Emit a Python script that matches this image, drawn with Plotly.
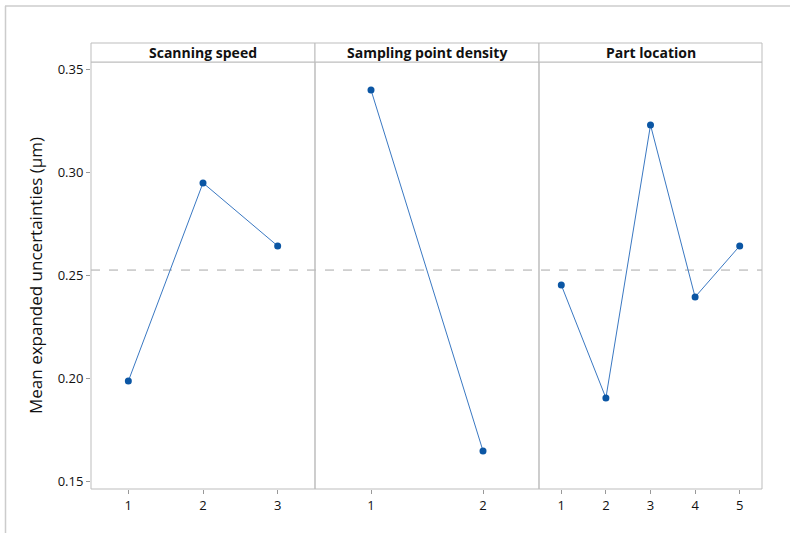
import plotly.graph_objects as go

panel_titles = ["Scanning speed", "Sampling point density", "Part location"]
speed_levels = [1, 2, 3]
speed_means = [0.1985, 0.2947, 0.2641]
density_levels = [1, 2]
density_means = [0.3398, 0.1646]
location_levels = [1, 2, 3, 4, 5]
location_means = [0.2451, 0.1903, 0.3228, 0.2393, 0.2641]
grand_mean = 0.2524
y_ticks = [0.15, 0.20, 0.25, 0.30, 0.35]

W, H = 790, 533
L, R, T, B = 91, 762, 43, 489
pw, ph = R - L, B - T
def px(x): return (x - L) / pw
def py(y): return (B - y) / ph

bounds = [91, 315, 539, 762]
doms = [[px(bounds[i]), px(bounds[i + 1])] for i in range(3)]
y_top = py(62)

series = [(speed_levels, speed_means), (density_levels, density_means), (location_levels, location_means)]
fig = go.Figure()
font = "Open Sans, Noto Sans, sans-serif"
for i, (lv, mv) in enumerate(series):
    xa = "x" if i == 0 else f"x{i+1}"
    fig.add_trace(go.Scatter(x=lv, y=mv, xaxis=xa, yaxis="y", mode="lines+markers",
                             line=dict(color="#3a78c2", width=1),
                             marker=dict(color="#0b56a4", size=7, symbol="circle"),
                             showlegend=False, hoverinfo="x+y"))

layout = dict(width=W, height=H, margin=dict(l=L, r=W - R, t=T, b=H - B, autoexpand=False),
              plot_bgcolor="white", paper_bgcolor="white",
              font=dict(family=font, color="#222222", size=13))
for i, lv in enumerate([speed_levels, density_levels, location_levels]):
    key = "xaxis" if i == 0 else f"xaxis{i+1}"
    layout[key] = dict(domain=doms[i], range=[0.5, max(lv) + 0.5], tickvals=lv,
                       ticks="outside", ticklen=4, tickcolor="#999999", showgrid=False,
                       zeroline=False, showline=False, anchor="y", automargin=False,
                       tickfont=dict(size=13, color="#111111"), fixedrange=True)
layout["yaxis"] = dict(domain=[0, y_top], range=[0.35 - (489 - 69) / 2060, 0.35 + (69 - 62) / 2060],
                       tickvals=y_ticks, tickformat=".2f", ticks="outside", ticklen=4,
                       tickcolor="#999999", showgrid=False, zeroline=False, showline=False,
                       automargin=False,
                       tickfont=dict(size=13, color="#111111"),
                       title=dict(text="Mean expanded uncertainties (μm)", font=dict(size=17, color="#111111"), standoff=10))
fig.update_layout(**layout)

shapes = []
border = "#bdbdbd"
for i in range(3):
    x0, x1 = doms[i]
    shapes.append(dict(type="rect", xref="paper", yref="paper", x0=x0, x1=x1, y0=0, y1=y_top,
                       line=dict(color=border, width=1), fillcolor="rgba(0,0,0,0)", layer="above"))
    shapes.append(dict(type="rect", xref="paper", yref="paper", x0=x0, x1=x1, y0=y_top, y1=1,
                       line=dict(color=border, width=1), fillcolor="white", layer="above"))
    fig.add_annotation(x=(x0 + x1) / 2, y=(y_top + 1) / 2, xref="paper", yref="paper",
                       text=f"<b>{panel_titles[i]}</b>", showarrow=False, xanchor="center",
                       font=dict(size=14, color="#111111", family=font), yanchor="middle")
# grand mean reference line
shapes.append(dict(type="line", xref="paper", yref="y", x0=0, x1=1, y0=grand_mean, y1=grand_mean,
                   line=dict(color="#a8a8a8", width=1, dash="dash"), layer="below"))
# outer frame
shapes.append(dict(type="line", xref="paper", yref="paper", x0=px(5), x1=px(792), y0=py(6), y1=py(6),
                   line=dict(color="#cccccc", width=1.5)))
shapes.append(dict(type="line", xref="paper", yref="paper", x0=px(5.5), x1=px(5.5), y0=py(6), y1=py(540),
                   line=dict(color="#cccccc", width=1.5)))
fig.update_layout(shapes=shapes)
fig.write_html("out.html", config={"displayModeBar": False},
               post_script="document.body.style.margin='0';document.body.style.overflow='hidden';")
